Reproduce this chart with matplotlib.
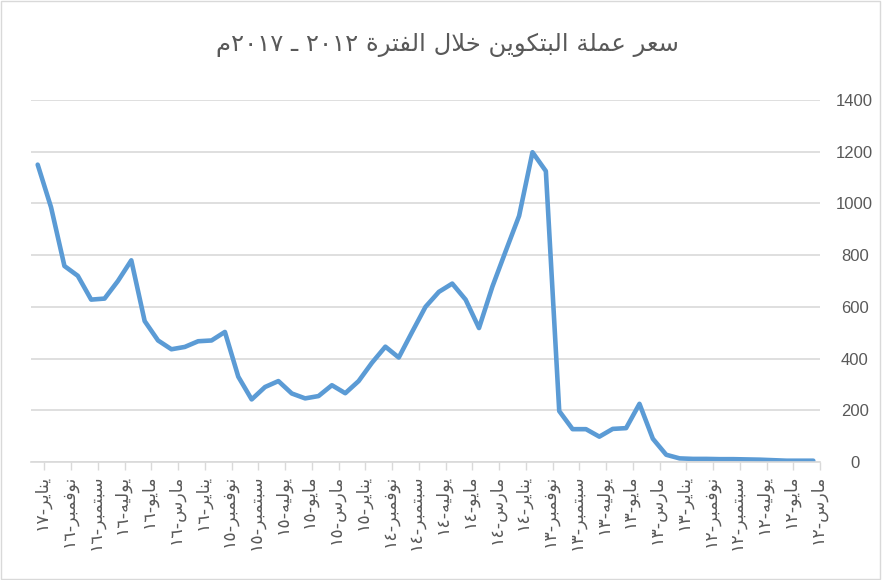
import numpy as np
import matplotlib
matplotlib.use("Agg")
import matplotlib.pyplot as plt
from matplotlib.patches import Rectangle

# end-of-month price, chronological: March 2012 .. January 2017
prices = [5, 5, 5, 7, 9, 10, 11, 11, 12, 12,                      # 2012 (Mar-Dec)
          14, 28, 90, 225, 131, 128, 98, 127, 127, 197, 1125, 1198,  # 2013
          952, 816, 678, 518, 628, 690, 658, 600, 503, 404, 446, 384,  # 2014
          313, 266, 297, 255, 246, 265, 313, 290, 242, 330, 503, 470,  # 2015
          467, 445, 436, 470, 545, 780, 700, 632, 628, 720, 758, 985,  # 2016
          1150]                                                      # 2017 (Jan)

# labelled months (every second month starting with March 2012)
label_months = ["مارس", "مايو", "يوليه", "سبتمبر", "نوفمبر", "يناير"]
label_years = ["12"] * 5 + ["13"] * 6 + ["14"] * 6 + ["15"] * 6 + ["16"] * 6 + ["17"]
y_ticks = [0, 200, 400, 600, 800, 1000, 1200, 1400]

title_words = "سعر عملة البتكوين خلال الفترة"
title_years = ["2012", "2017"]

# --- minimal arabic shaping (matplotlib has no bidi / joining) ---
FORMS = {
    "ا": (0xFE8D, 0xFE8E, None, None), "أ": (0xFE83, 0xFE84, None, None),
    "إ": (0xFE87, 0xFE88, None, None), "آ": (0xFE81, 0xFE82, None, None),
    "ب": (0xFE8F, 0xFE90, 0xFE91, 0xFE92), "ت": (0xFE95, 0xFE96, 0xFE97, 0xFE98),
    "ة": (0xFE93, 0xFE94, None, None), "ث": (0xFE99, 0xFE9A, 0xFE9B, 0xFE9C),
    "ج": (0xFE9D, 0xFE9E, 0xFE9F, 0xFEA0), "ح": (0xFEA1, 0xFEA2, 0xFEA3, 0xFEA4),
    "خ": (0xFEA5, 0xFEA6, 0xFEA7, 0xFEA8), "د": (0xFEA9, 0xFEAA, None, None),
    "ذ": (0xFEAB, 0xFEAC, None, None), "ر": (0xFEAD, 0xFEAE, None, None),
    "ز": (0xFEAF, 0xFEB0, None, None), "س": (0xFEB1, 0xFEB2, 0xFEB3, 0xFEB4),
    "ش": (0xFEB5, 0xFEB6, 0xFEB7, 0xFEB8), "ص": (0xFEB9, 0xFEBA, 0xFEBB, 0xFEBC),
    "ع": (0xFEC9, 0xFECA, 0xFECB, 0xFECC), "غ": (0xFECD, 0xFECE, 0xFECF, 0xFED0),
    "ف": (0xFED1, 0xFED2, 0xFED3, 0xFED4), "ق": (0xFED5, 0xFED6, 0xFED7, 0xFED8),
    "ك": (0xFED9, 0xFEDA, 0xFEDB, 0xFEDC), "ل": (0xFEDD, 0xFEDE, 0xFEDF, 0xFEE0),
    "م": (0xFEE1, 0xFEE2, 0xFEE3, 0xFEE4), "ن": (0xFEE5, 0xFEE6, 0xFEE7, 0xFEE8),
    "ه": (0xFEE9, 0xFEEA, 0xFEEB, 0xFEEC), "و": (0xFEED, 0xFEEE, None, None),
    "ى": (0xFEEF, 0xFEF0, None, None), "ي": (0xFEF1, 0xFEF2, 0xFEF3, 0xFEF4),
}
LAM_ALEF = {"ا": (0xFEFB, 0xFEFC), "أ": (0xFEF7, 0xFEF8),
            "إ": (0xFEF9, 0xFEFA), "آ": (0xFEF5, 0xFEF6)}


def joins_next(c):
    return c in FORMS and FORMS[c][2] is not None


def shape(text):
    out = []
    k = 0
    while k < len(text):
        c = text[k]
        if c not in FORMS:
            out.append(c)
            k += 1
            continue
        link_prev = k > 0 and joins_next(text[k - 1])
        if c == "ل" and k + 1 < len(text) and text[k + 1] in LAM_ALEF:
            iso, fin = LAM_ALEF[text[k + 1]]
            out.append(chr(fin if link_prev else iso))
            k += 2
            continue
        link_next = joins_next(c) and k + 1 < len(text) and text[k + 1] in FORMS
        iso, fin, ini, med = FORMS[c]
        if link_prev and link_next:
            g = med
        elif link_prev:
            g = fin
        elif link_next:
            g = ini
        else:
            g = iso
        out.append(chr(g))
        k += 1
    return "".join(out)


def ar(text):
    return shape(text)[::-1]


def ar_digits(s):
    return s.translate(str.maketrans("0123456789", "٠١٢٣٤٥٦٧٨٩"))


n = len(prices)
x = np.arange(n)
label_pos = x[::2]
tick_labels = []
for k, yy in enumerate(label_years):
    tick_labels.append(ar_digits(yy) + "-" + ar(label_months[k % 6]))

grey = "#d9d9d9"
text_col = "#595959"

fig = plt.figure(figsize=(8.82, 5.8), dpi=100)
ax = fig.add_axes([31 / 882, 1 - 462 / 580, (820 - 31) / 882, (462 - 100) / 580])

ax.plot(x, prices, color="#5b9bd5", lw=3.3, solid_joinstyle="round", solid_capstyle="round")

ax.set_xlim(n - 0.5, -0.5)
ax.set_ylim(0, 1400)

ax.set_yticks(y_ticks)
ax.yaxis.grid(True, color=grey, lw=1.2)
ax.set_axisbelow(True)
ax.yaxis.tick_right()
ax.tick_params(axis="y", length=0, pad=25, labelcolor=text_col, labelsize=12)
for lab in ax.get_yticklabels():
    lab.set_horizontalalignment("center")
    lab.set_fontfamily("Liberation Sans")

# tick marks on the month boundaries, labels on the labelled months
ax.set_xticks(label_pos - 0.5)
ax.set_xticklabels([])
ax.tick_params(axis="x", which="major", length=6, color=grey, width=1)
ax.set_xticks(label_pos - 0.3, minor=True)
ax.set_xticklabels(tick_labels, minor=True, rotation=90, fontsize=12.5,
                   color=text_col, family="DejaVu Sans")
ax.tick_params(axis="x", which="minor", length=0, pad=9)

for side in ["top", "left", "right"]:
    ax.spines[side].set_visible(False)
ax.spines["bottom"].set_color(grey)
ax.spines["bottom"].set_linewidth(1.2)

title = "م" + ar_digits(title_years[1]) + " ـ " + ar_digits(title_years[0]) + " " + ar(title_words)
fig.text(447 / 882, 1 - 45 / 580, title, ha="center", va="center",
         fontsize=17.5, color=text_col, family="DejaVu Sans")

fig.patches.append(Rectangle((0.001, 0.002), 0.997, 0.996, transform=fig.transFigure,
                             fill=False, edgecolor=grey, lw=1))

fig.savefig("out.png", dpi=100)
